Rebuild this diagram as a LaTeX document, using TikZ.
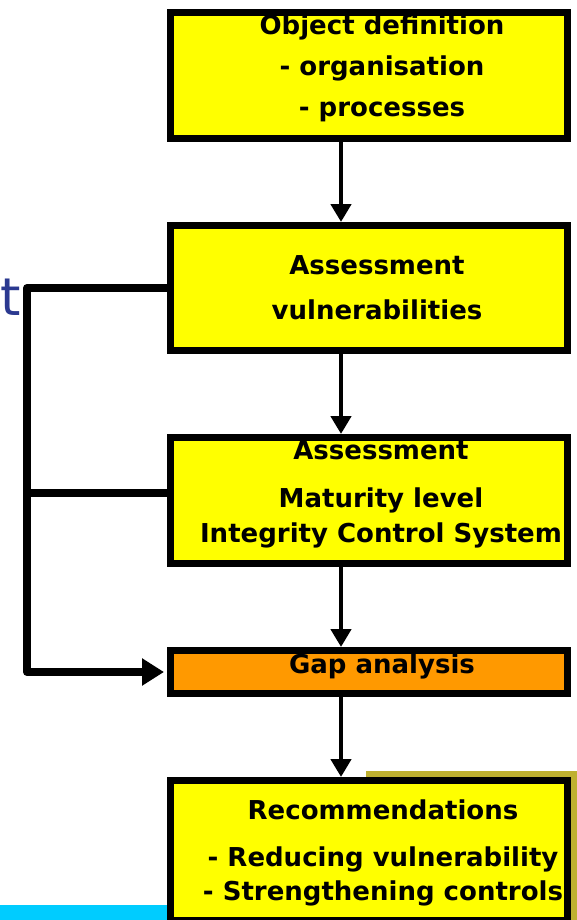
\documentclass[tikz,border=0pt]{standalone}
\usepackage{fontspec}
\setmainfont{DejaVu Sans}
\usetikzlibrary{positioning}
\usetikzlibrary{arrows.meta}
\definecolor{boxyellow}{RGB}{255,255,0}
\definecolor{gaporange}{RGB}{255,153,0}
\definecolor{shadowolive}{RGB}{190,176,48}
\definecolor{barcyan}{RGB}{0,204,255}
\definecolor{titleblue}{RGB}{43,57,144}

\begin{document}
\begin{tikzpicture}
[
x=1pt, y=-1pt,
node distance=80pt,
box/.style={draw, line width=7pt, minimum width=397pt, fill=boxyellow},
boxtext/.style={anchor=base, inner sep=0pt, align=center, font=\fontsize{26}{34}\selectfont\bfseries},
flow/.style={line width=4.5pt, -{Triangle[length=18pt, width=20pt]}},
loop/.style={line width=8pt, line join=round},
]
\useasboundingbox (0,0) rectangle (577,920);

% pieces of the slide behind the chart
\fill [shadowolive] (366,771) rectangle (580,925);
\fill [barcyan] (0,905) rectangle (200,925);
\node (cut) [anchor=base west, inner sep=0pt, text=titleblue, font=\fontsize{52}{52}\selectfont] at (0,315) {t};

\node (obj) [box, minimum height=126pt] at (369,75.5) {};
\node (vuln) [box, minimum height=125pt, below=of obj] {};
\node (matur) [box, minimum height=126pt, below=of vuln] {};
\node (gap) [box, minimum height=43pt, below=of matur, fill=gaporange] {};
\node (recom) [box, minimum height=140pt, below=of gap] {};

% texts, placed at the baseline of their last line
\node (objtext) [boxtext] at (382,117) {Object definition\\[7pt]- organisation\\[7pt]- processes};
\node (vulntext) [boxtext] at (377,319) {Assessment\\[11pt]vulnerabilities};
\node (maturtext) [boxtext] at (381,542) {Assessment\\[14pt]Maturity level\\[1pt]Integrity Control System};
\node (gaptext) [boxtext] at (382,673) {Gap analysis};
\node (recomtext) [boxtext] at (383,900) {Recommendations\\[13pt]- Reducing vulnerability\\- Strengthening controls};

\foreach \a/\b in {obj/vuln, vuln/matur, matur/gap, gap/recom}
{
\draw [flow] ([xshift=-28pt]\a.south) -- ([xshift=-28pt]\b.north);
}

% feedback into the gap analysis
\coordinate (rail) at (27,0);
\draw [loop, -{Triangle[length=22pt, width=26pt]}, shorten >=3pt] (vuln.west) -- (vuln.west -| rail) |- (gap.west);
\draw [loop] ([yshift=8pt]matur.west) -- ([yshift=8pt]matur.west -| rail);
\end{tikzpicture}
\end{document}
